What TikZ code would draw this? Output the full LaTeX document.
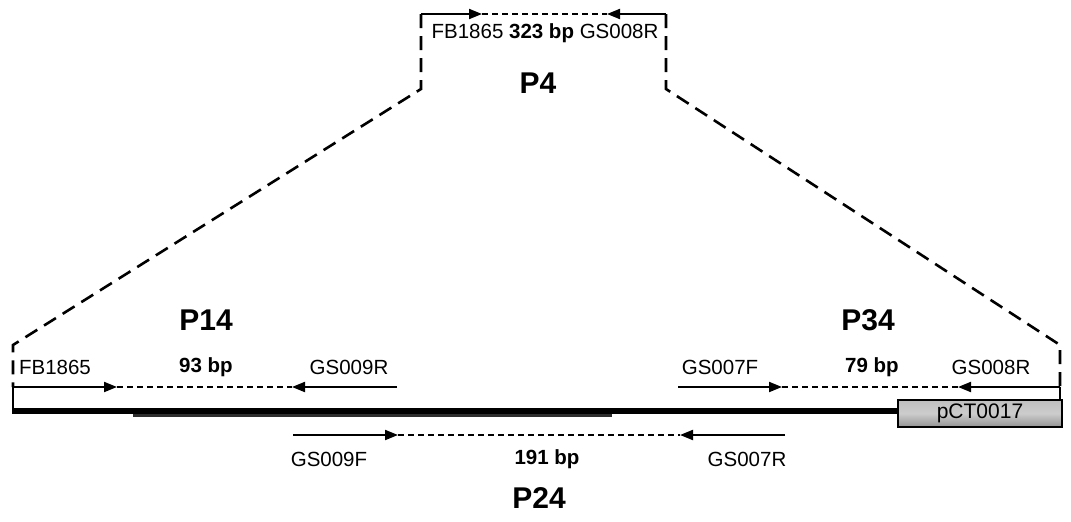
\documentclass[tikz,border=0pt]{standalone}
\usepackage{fontspec}
\setmainfont{Liberation Sans}
\usetikzlibrary{arrows.meta}
\begin{document}
\begin{tikzpicture}[x=1pt,y=-1pt,
  prim/.style={line width=2pt,-{Triangle[length=13pt,width=10pt]}},
  amp/.style={line width=1.8pt,dash pattern=on 6pt off 4pt},
  bound/.style={line width=2.6pt,dash pattern=on 14pt off 8pt},
  thin/.style={line width=2pt},
  lbl/.style={font=\fontsize{20.5}{22}\selectfont,inner sep=0pt},
  bp/.style={font=\fontsize{20.5}{22}\selectfont\bfseries,inner sep=0pt},
  pname/.style={font=\fontsize{30}{32}\selectfont\bfseries,inner sep=0pt},
  pctbox/.style={draw,line width=1.2pt,minimum width=164pt,minimum height=27pt,
    top color=gray!50,bottom color=gray!85,middle color=gray!40,inner sep=0pt,font=\fontsize{21}{22}\selectfont}]
\useasboundingbox (0,0) rectangle (1071,522);

% ---------- P4 (top) ----------
\coordinate (tL) at (421,14);
\coordinate (tA) at (482,14);
\coordinate (tB) at (607,14);
\coordinate (tR) at (666,14);
\coordinate (tLb) at (421,89);
\coordinate (tRb) at (666,89);
\draw[prim] (tL) -- (tA);
\draw[prim] (tR) -- (tB);
\draw[amp] (tA) -- (tB);
\node[lbl] (p4lbl) at (545,33) {FB1865 \textbf{323 bp} GS008R};
\node[pname] (p4) at (538,83) {P4};

% ---------- expansion boundary ----------
\coordinate (cL) at (13,345);
\coordinate (cR) at (1060,345);
\coordinate (lA) at (13,387);
\coordinate (rA) at (1060,387);
\coordinate (lEnd) at (13,414);
\coordinate (rEnd) at (1060,400);
\draw[bound] (tL) -- (tLb) -- (cL) -- (lA);
\draw[bound] (tR) -- (tRb) -- (cR) -- (rA);
\draw[thin] (lA) -- (lEnd);
\draw[thin] (rA) -- (rEnd);

% ---------- main sequence line ----------
\coordinate (mL) at (13,411);
\coordinate (mR) at (899,411);
\coordinate (gL) at (133,414.5);
\coordinate (gR) at (612,414.5);
\draw[line width=4pt,gray!35!black] (gL) -- (gR);
\draw[line width=6.5pt] (mL) -- (mR);
\node[pctbox] (pct) at (980,413.5) {pCT0017};

% ---------- P14 ----------
\coordinate (aTip) at (117,387);
\coordinate (bTip) at (292,387);
\coordinate (bS) at (397,387);
\draw[prim] (lA) -- (aTip);
\draw[prim] (bS) -- (bTip);
\draw[amp] (aTip) -- (bTip);
\node[lbl] (fb) at (55,367) {FB1865};
\node[bp] (bp93) at (206,367) {93 bp};
\node[lbl] (g9r) at (349,367) {GS009R};
\node[pname] (p14) at (206,320) {P14};

% ---------- P34 ----------
\coordinate (cS) at (678,387);
\coordinate (cTip) at (782,387);
\coordinate (dTip) at (958,387);
\draw[prim] (cS) -- (cTip);
\draw[prim] (rA) -- (dTip);
\draw[amp] (cTip) -- (dTip);
\node[lbl] (g7f) at (720,367) {GS007F};
\node[bp] (bp79) at (872,367) {79 bp};
\node[lbl] (g8r) at (991,367) {GS008R};
\node[pname] (p34) at (868,320) {P34};

% ---------- P24 ----------
\coordinate (eS) at (293,435);
\coordinate (eTip) at (398,435);
\coordinate (fTip) at (680,435);
\coordinate (fS) at (785,435);
\draw[prim] (eS) -- (eTip);
\draw[prim] (fS) -- (fTip);
\draw[amp] (eTip) -- (fTip);
\node[lbl] (g9f) at (329,459) {GS009F};
\node[bp] (bp191) at (547,459) {191 bp};
\node[lbl] (g7r) at (747,459) {GS007R};
\node[pname] (p24) at (539,498) {P24};
\end{tikzpicture}
\end{document}
